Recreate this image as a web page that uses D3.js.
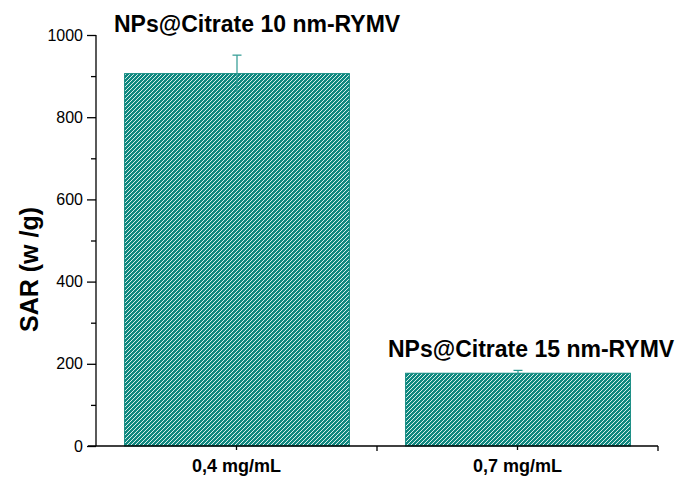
<!DOCTYPE html>
<html>
<head>
<meta charset="utf-8">
<script src="https://cdn.jsdelivr.net/npm/d3@7/dist/d3.min.js"></script>
<style>
  html, body { margin: 0; padding: 0; background: #fff; }
  svg { display: block; font-family: "Liberation Sans", Arial, sans-serif; }
</style>
</head>
<body>
<svg id="chart" width="678" height="477"></svg>
<script>
// SAR measurements per concentration
const categories = ["0,4 mg/mL", "0,7 mg/mL"];
const sarValues = [906, 177];
const sarErrors = [45, 7];
const barLabels = ["NPs@Citrate 10 nm-RYMV", "NPs@Citrate 15 nm-RYMV"];
const yTicks = [0, 200, 400, 600, 800, 1000];
const yMinorTicks = [100, 300, 500, 700, 900];

const svg = d3.select("#chart");
const FONT = "Liberation Sans, Arial, sans-serif";
const left = 96, right = 658;

const x = d3.scaleBand().domain(categories).range([left, right]).paddingInner(0.2).paddingOuter(0.1);
const xOuter = d3.scaleBand().domain(categories).range([left, right]);
const y = d3.scaleLinear().domain([0, 1000]).range([446, 35]);

const teal = "#0f887f";

// diagonal hatch fill
const defs = svg.append("defs");
const pat = defs.append("pattern")
  .attr("id", "hatch")
  .attr("patternUnits", "userSpaceOnUse")
  .attr("width", 4).attr("height", 4);
pat.append("rect").attr("width", 4).attr("height", 4).attr("fill", teal);
pat.append("path")
  .attr("d", "M-1,1 L1,-1 M0,4 L4,0 M3,5 L5,3")
  .attr("stroke", "#e2f3f1").attr("stroke-width", 0.95);

// bars
svg.selectAll("rect.bar").data(categories).enter().append("rect")
  .attr("class", "bar")
  .attr("x", d => x(d) + 0.5)
  .attr("y", (d, i) => y(sarValues[i]))
  .attr("width", x.bandwidth())
  .attr("height", (d, i) => y(0) - y(sarValues[i]))
  .attr("fill", "url(#hatch)")
  .attr("stroke", teal).attr("stroke-width", 1);

// error bars
const eb = svg.append("g").attr("stroke", "#2a9890").attr("stroke-width", 1.2).attr("fill", "none");
categories.forEach((c, i) => {
  const cx = x(c) + x.bandwidth() / 2 + 0.5;
  eb.append("line").attr("x1", cx).attr("x2", cx)
    .attr("y1", y(sarValues[i] + sarErrors[i])).attr("y2", y(sarValues[i] - sarErrors[i]));
  eb.append("line").attr("x1", cx - 4.5).attr("x2", cx + 4.5)
    .attr("y1", y(sarValues[i] + sarErrors[i])).attr("y2", y(sarValues[i] + sarErrors[i]));
});

// y axis
const yAxis = svg.append("g").attr("transform", `translate(${left},0)`)
  .call(d3.axisLeft(y).tickValues(yTicks).tickSize(9).tickPadding(4).tickFormat(d3.format("d")));
yAxis.select(".domain").attr("stroke", "#000").attr("stroke-width", 1.3).attr("d", `M0,${y(1000)}V${y(0)}`);
yAxis.selectAll(".tick line").attr("stroke", "#000").attr("stroke-width", 1.3);
yAxis.selectAll(".tick text")
  .style("font-size", "16px").style("font-family", FONT).attr("fill", "#000");
const yMinor = svg.append("g").attr("transform", `translate(${left},0)`)
  .call(d3.axisLeft(y).tickValues(yMinorTicks).tickSize(5).tickFormat(""));
yMinor.select(".domain").remove();
yMinor.selectAll(".tick line").attr("stroke", "#000").attr("stroke-width", 1.3);

// x axis
const xAxis = svg.append("g").attr("transform", `translate(0,${y(0)})`)
  .call(d3.axisBottom(xOuter).tickSize(4).tickPadding(11));
xAxis.select(".domain").attr("stroke", "#000").attr("stroke-width", 1.3).attr("d", `M${left - 8},0H${right}`);
xAxis.selectAll(".tick line").attr("stroke", "#000").attr("stroke-width", 1.3);
xAxis.selectAll(".tick text")
  .attr("dy", "0")
  .attr("y", 26)
  .style("font-size", "18px").style("font-weight", "bold").style("font-family", FONT).attr("fill", "#000");
// category boundary ticks
svg.append("g").selectAll("line").data(categories).enter().append("line")
  .attr("x1", d => xOuter(d) + xOuter.bandwidth()).attr("x2", d => xOuter(d) + xOuter.bandwidth())
  .attr("y1", y(0)).attr("y2", y(0) + 5)
  .attr("stroke", "#000").attr("stroke-width", 1.3);

// y axis title
svg.append("text")
  .attr("transform", `translate(38,${(y(0) + y(1000)) / 2 + 29}) rotate(-90)`)
  .attr("text-anchor", "middle")
  .style("font-size", "25px").style("font-weight", "bold").attr("fill", "#000")
  .text("SAR (w /g)");

// sample labels above bars
const labelPos = [{ x: 114, y: 32 }, { x: 388, y: 357 }];
barLabels.forEach((t, i) => {
  svg.append("text")
    .attr("x", labelPos[i].x).attr("y", labelPos[i].y)
    .style("font-size", "23px").style("font-weight", "bold").attr("fill", "#000")
    .text(t);
});
</script>
</body>
</html>
